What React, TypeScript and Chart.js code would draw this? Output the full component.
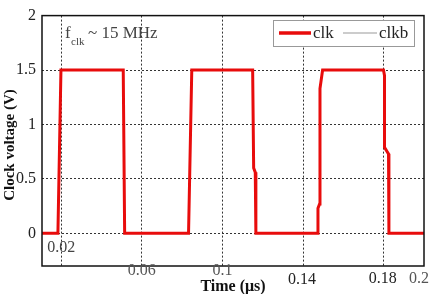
import React, { useEffect, useRef } from "react";
import { Chart, registerables } from "chart.js";

Chart.register(...registerables);

// ---- data ----
const clkTime = [0.0105, 0.0184, 0.0199, 0.0508, 0.0515, 0.0832, 0.0848, 0.115, 0.1155, 0.1163, 0.1166, 0.1472, 0.1474, 0.1482, 0.1484, 0.1497, 0.1799, 0.1804, 0.1804, 0.1824, 0.1826, 0.2];
const clkVolt = [0, 0, 1.5, 1.5, 0, 0, 1.5, 1.5, 0.6, 0.56, 0, 0, 0.23, 0.27, 1.33, 1.5, 1.5, 1.45, 0.79, 0.73, 0, 0];
const clkbTime: number[] = [];
const clkbVolt: number[] = [];
const xTicks = [0.02, 0.06, 0.1, 0.14, 0.18, 0.2];
const xTickLabels = ["0.02", "0.06", "0.1", "0.14", "0.18", "0.2"];
const yTicks = [0, 0.5, 1, 1.5, 2];
const seriesNames = ["clk", "clkb"];

// ---- styles ----
const xLabelStyle = [
  { dx: 0, y: 248, color: "#444" },
  { dx: 0, y: 271, color: "#555" },
  { dx: 0, y: 271, color: "#555" },
  { dx: -1, y: 280, color: "#222" },
  { dx: -1, y: 279, color: "#222" },
  { dx: -5, y: 279, color: "#555" },
];
const SERIF = "'Liberation Serif', 'Times New Roman', serif";
const DASH = [2, 2];

const overlay = {
  id: "overlay",
  afterDraw(chart: any) {
    const ctx = chart.ctx;
    const a = chart.chartArea;
    const xs = chart.scales.x;
    ctx.save();
    // frame
    ctx.setLineDash([]);
    ctx.strokeStyle = "#111";
    ctx.lineWidth = 1.5;
    ctx.strokeRect(a.left, a.top, a.right - a.left, a.bottom - a.top);

    // x tick labels
    ctx.font = `16px ${SERIF}`;
    ctx.textAlign = "center";
    ctx.textBaseline = "middle";
    xTicks.forEach((v, i) => {
      const st = xLabelStyle[i];
      ctx.fillStyle = st.color;
      ctx.fillText(xTickLabels[i], xs.getPixelForValue(v) + st.dx, st.y);
    });

    // axis titles
    ctx.fillStyle = "#111";
    ctx.font = `bold 16px ${SERIF}`;
    ctx.textBaseline = "alphabetic";
    ctx.fillText("Time (\u03bcs)", (a.left + a.right) / 2, 291);
    ctx.save();
    ctx.translate(10, 145);
    ctx.rotate(-Math.PI / 2);
    ctx.font = `bold 15px ${SERIF}`;
    ctx.textBaseline = "middle";
    ctx.fillText("Clock voltage (V)", 0, 0);
    ctx.restore();

    // annotation
    ctx.textAlign = "left";
    ctx.textBaseline = "alphabetic";
    ctx.fillStyle = "#444";
    ctx.font = `17px ${SERIF}`;
    ctx.fillText("f", 65, 38);
    ctx.font = `11px ${SERIF}`;
    ctx.fillText("clk", 71, 45);
    ctx.font = `17px ${SERIF}`;
    ctx.fillText("~ 15 MHz", 88, 38);

    // legend
    const lx = 273, ly = 20, lw = 141, lh = 26;
    ctx.fillStyle = "#fff";
    ctx.fillRect(lx, ly, lw, lh);
    ctx.strokeStyle = "#999";
    ctx.lineWidth = 1;
    ctx.strokeRect(lx + 0.5, ly + 0.5, lw, lh);
    const ds = chart.data.datasets;
    ctx.lineCap = "butt";
    ctx.strokeStyle = ds[0].borderColor;
    ctx.lineWidth = 3.5;
    ctx.beginPath();
    ctx.moveTo(279, 33);
    ctx.lineTo(311, 33);
    ctx.stroke();
    ctx.strokeStyle = ds[1].borderColor;
    ctx.lineWidth = 1;
    ctx.beginPath();
    ctx.moveTo(343, 33);
    ctx.lineTo(377, 33);
    ctx.stroke();
    ctx.fillStyle = "#222";
    ctx.font = `17px ${SERIF}`;
    ctx.fillText(ds[0].label, 313, 38);
    ctx.fillText(ds[1].label, 379, 38);
    ctx.restore();
  },
};

export default function App() {
  const ref = useRef<HTMLCanvasElement | null>(null);
  useEffect(() => {
    document.body.style.margin = "0";
    const chart = new Chart(ref.current as HTMLCanvasElement, {
      type: "line",
      data: {
        datasets: [
          {
            label: seriesNames[0],
            data: clkTime.map((t, i) => ({ x: t, y: clkVolt[i] })),
            borderColor: "rgb(232,12,12)",
            borderWidth: 3,
            pointRadius: 0,
            tension: 0,
          },
          {
            label: seriesNames[1],
            data: clkbTime.map((t, i) => ({ x: t, y: clkbVolt[i] })),
            borderColor: "#999",
            borderWidth: 1,
            pointRadius: 0,
          },
        ],
      },
      options: {
        responsive: false,
        animation: false,
        layout: { padding: { top: 8, right: 14, left: 0, bottom: 0 } },
        plugins: { legend: { display: false }, tooltip: { enabled: false } },
        scales: {
          x: {
            type: "linear",
            min: 0.0105,
            max: 0.2,
            afterBuildTicks: (s: any) => {
              s.ticks = xTicks.slice(0, 5).map((v) => ({ value: v }));
            },
            afterFit: (s: any) => {
              s.height = 28;
            },
            ticks: { display: false },
            grid: { color: "#333", lineWidth: 1, drawTicks: false, borderDash: DASH, tickBorderDash: DASH },
            border: { display: false, dash: DASH },
          },
          y: {
            min: -0.3,
            max: 2,
            afterBuildTicks: (s: any) => {
              s.ticks = yTicks.map((v) => ({ value: v }));
            },
            afterFit: (s: any) => {
              s.width = 42;
            },
            ticks: {
              padding: 6,
              color: "#222",
              font: { family: SERIF, size: 16 },
              callback: (v: any) => String(v),
            },
            grid: { color: "#333", lineWidth: 1, drawTicks: false, borderDash: DASH, tickBorderDash: DASH },
            border: { display: false, dash: DASH },
          },
        },
      },
      plugins: [overlay],
    } as any);
    return () => chart.destroy();
  }, []);
  return <canvas ref={ref} width={438} height={294} />;
}
